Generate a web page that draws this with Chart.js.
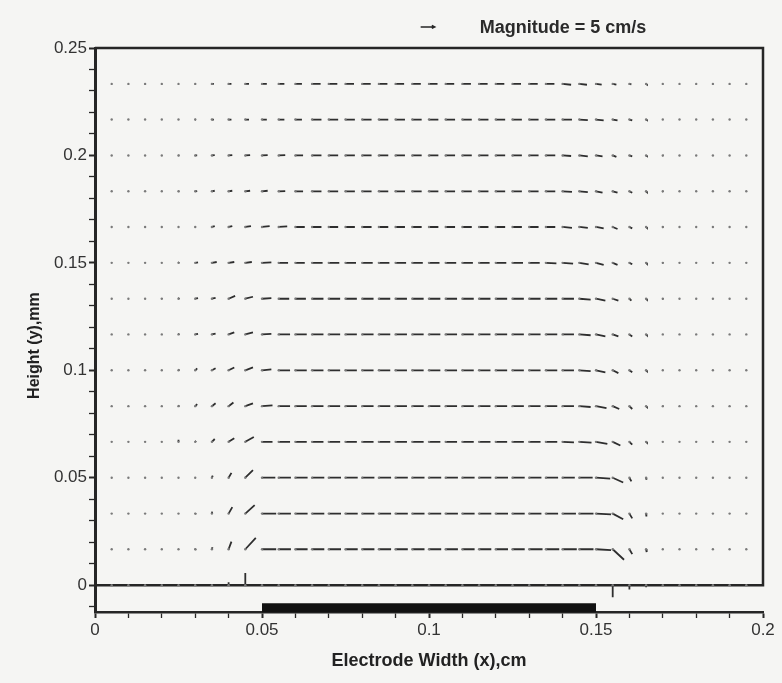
<!DOCTYPE html>
<html>
<head>
<meta charset="utf-8">
<title>Velocity vectors over the electrode</title>
<script src="https://cdn.jsdelivr.net/npm/chart.js@4.4.1/dist/chart.umd.min.js"></script>
<style>
  html, body { margin: 0; padding: 0; background: #f5f5f3; }
  #wrap { width: 782px; height: 683px; }
</style>
</head>
<body>
<div id="wrap"><canvas id="quiverChart" width="782" height="683"></canvas></div>
<script>
(function () {
  'use strict';

  // Axis limits and ticks
  var X_MIN = 0, X_MAX = 0.2;
  var Y_MIN = -0.0125, Y_MAX = 0.25;
  var X_TICKS = [0, 0.01, 0.02, 0.03, 0.04, 0.05, 0.06, 0.07, 0.08, 0.09, 0.1,
                 0.11, 0.12, 0.13, 0.14, 0.15, 0.16, 0.17, 0.18, 0.19, 0.2];
  var X_LABELS = [0, 0.05, 0.1, 0.15, 0.2];
  var Y_TICKS = [-0.01, 0, 0.01, 0.02, 0.03, 0.04, 0.05, 0.06, 0.07, 0.08, 0.09, 0.1,
                 0.11, 0.12, 0.13, 0.14, 0.15, 0.16, 0.17, 0.18, 0.19, 0.2,
                 0.21, 0.22, 0.23, 0.24, 0.25];
  var Y_LABELS = [0, 0.05, 0.1, 0.15, 0.2, 0.25];

  // Electrode strip below the cell
  var ELECTRODE_X = [0.05, 0.15];
  var ELECTRODE_Y = -0.0105;

  // Vector grid
  var GRID_X = [0.005, 0.01, 0.015, 0.02, 0.025, 0.03, 0.035, 0.04, 0.045, 0.05,
                0.055, 0.06, 0.065, 0.07, 0.075, 0.08, 0.085, 0.09, 0.095, 0.1,
                0.105, 0.11, 0.115, 0.12, 0.125, 0.13, 0.135, 0.14, 0.145, 0.15,
                0.155, 0.16, 0.165, 0.17, 0.175, 0.18, 0.185, 0.19, 0.195];
  var GRID_Y = [0, 0.0167, 0.0333, 0.05, 0.0667, 0.0833, 0.1, 0.1167,
                0.1333, 0.15, 0.1667, 0.1833, 0.2, 0.2167, 0.2333];

  // Velocity components per row (cm/s), one value per GRID_X column
  var U00 = [0,0,0,0,0,0,0,0,0,0, 0,0,0,0,0,0,0,0,0,0, 0,0,0,0,0,0,0,0,0,0, 0,0,0,0,0,0,0,0,0];
  var V00 = [0,0,0,0,0,0,0.3,1.0,4.3,0, 0,0,0,0,0,0,0,0,0,0, 0,0,0,0,0,0,0,0,0,0, -4.3,-1.5,-0.7,0,0,0,0,0,0];

  var U01 = [0,0,0,0,0,0.1,0.2,1.0,3.7,5.0, 4.3,4.3,4.3,4.3,4.3,4.3,4.3,4.3,4.3,4.3, 4.3,4.3,4.3,4.3,4.3,4.7,4.7,5.0,5.0,5.3, 4.0,1.0,0.2,0,0,0,0,0,0];
  var V01 = [0,0,0,0,0,0.2,0.7,2.7,4.0,0, 0,0,0,0,0,0,0,0,0,0, 0,0,0,0,0,0,0,0,0,-0.3, -3.7,-1.7,-1.0,0,0,0,0,0,0];

  var U02 = [0,0,0,0,0,0.1,0.1,1.3,3.3,5.0, 4.3,4.3,4.3,4.3,4.3,4.3,4.3,4.3,4.3,4.3, 4.3,4.3,4.3,4.3,4.3,4.3,4.3,4.7,5.0,5.3, 3.7,1.0,0.1,0,0,0,0,0,0];
  var V02 = [0,0,0,0,0,0.2,0.7,2.3,3.0,0, 0,0,0,0,0,0,0,0,0,0, 0,0,0,0,0,0,0,0,0,-0.3, -2.0,-1.7,-1.0,0,0,0,0,0,0];

  var U03 = [0,0,0,0,0,0,0.3,1.0,2.7,4.7, 4.3,4.3,4.3,4.3,4.3,4.3,4.3,4.3,4.3,4.3, 4.3,4.3,4.3,4.3,4.3,4.3,4.3,4.3,4.7,5.0, 3.7,0.7,0.1,0,0,0,0,0,0];
  var V03 = [0,0,0,0,0,0,0.7,1.7,2.7,0, 0,0,0,0,0,0,0,0,0,0, 0,0,0,0,0,0,0,0,0,-0.3, -1.7,-1.3,-0.7,0,0,0,0,0,0];

  var U04 = [0,0,0,0,0,0.3,1.0,2.0,3.0,3.7, 4.0,4.0,4.0,4.0,4.0,4.0,4.0,4.0,4.0,4.0, 4.0,4.0,4.0,4.0,4.0,4.0,4.0,4.0,4.3,4.0, 2.7,1.0,0.3,0,0,0,0,0,0];
  var V04 = [0,0,0,0,0.7,0.3,1.0,1.3,1.7,0, 0,0,0,0,0,0,0,0,0,0, 0,0,0,0,0,0,0,-0.2,-0.3,-0.7, -1.3,-1.0,-0.3,0,0,0,0,0,0];

  var U05 = [0,0,0,0,0.2,0.7,1.3,1.7,2.7,3.7, 4.0,4.0,4.0,4.0,4.0,4.0,4.0,4.0,4.0,4.0, 4.0,4.0,4.0,4.0,4.0,4.0,4.0,4.0,4.0,3.7, 2.3,1.0,0.3,0.2,0,0,0,0,0];
  var V05 = [0,0,0,0,0.3,0.7,1.0,1.3,1.0,0.3, 0,0,0,0,0,0,0,0,0,0, 0,0,0,0,0,0,0,0,-0.3,-0.7, -1.0,-1.0,-0.3,-0.2,0,0,0,0,0];

  var U06 = [0,0,0,0,0.3,0.7,1.3,2.0,2.7,3.3, 4.0,4.0,4.0,4.0,4.0,4.0,4.0,4.0,4.0,4.0, 4.0,4.0,4.0,4.0,4.0,4.0,4.0,4.0,4.0,3.3, 2.0,1.0,0.3,0,0,0,0,0,0];
  var V06 = [0,0,0,0,0.3,0.7,0.7,1.0,1.0,0.3, 0,0,0,0,0,0,0,0,0,0, 0,0,0,0,0,0,0,0,-0.3,-0.7, -1.0,-0.7,-0.3,0,0,0,0,0,0];

  var U07 = [0,0,0,0,0.3,1.0,1.3,2.0,2.7,3.3, 4.0,4.0,4.0,4.0,4.0,4.0,4.0,4.0,4.0,4.0, 4.0,4.0,4.0,4.0,4.0,4.0,4.0,4.0,4.0,3.3, 2.0,1.0,0.3,0,0,0,0,0,0];
  var V07 = [0,0,0,0,0.3,0.2,0.3,0.7,0.7,0.2, 0,0,0,0,0,0,0,0,0,0, 0,0,0,0,0,0,0,0,-0.3,-0.7, -0.7,-0.7,-0.3,0,0,0,0,0,0];

  var U08 = [0,0,0,0,0.3,1.0,1.3,2.3,2.7,3.3, 3.7,3.7,4.0,4.0,4.0,4.0,4.0,4.0,4.0,4.0, 4.0,4.0,4.0,4.0,4.0,4.0,4.0,4.0,4.0,3.3, 2.0,0.7,0.3,0.2,0,0,0,0,0];
  var V08 = [0,0,0,0.3,0.3,0.2,0.3,1.0,0.7,0.2, 0,0,0,0,0,0,0,0,0,0, 0,0,0,0,0,0,0,0,-0.3,-0.7, -0.7,-0.7,-0.3,-0.2,0,0,0,0,0];

  var U09 = [0,0,0,0,0.3,1.0,1.7,2.0,2.3,3.3, 3.3,3.3,3.7,3.7,3.7,3.7,3.7,3.7,3.7,3.7, 3.7,3.7,3.7,3.7,3.7,3.7,3.7,3.7,3.3,2.7, 1.7,1.0,0.3,0.2,0,0,0,0,0];
  var V09 = [0,0,0,0,0.2,0.2,0.3,0.3,0.3,0.2, 0,0,0,0,0,0,0,0,0,0, 0,0,0,0,0,0,-0.2,-0.3,-0.5,-0.7, -0.7,-0.5,-0.3,-0.2,0,0,0,0,0];

  var U10 = [0,0,0,0,0.2,0.3,1.0,1.3,2.0,2.7, 3.0,3.3,3.3,3.3,3.3,3.3,3.3,3.3,3.3,3.3, 3.3,3.3,3.3,3.3,3.3,3.3,3.3,3.3,3.0,2.7, 1.7,1.0,0.3,0.2,0,0,0,0,0];
  var V10 = [0,0,0,0,0,0,0.3,0.3,0.3,0.3, 0.2,0,0,0,0,0,0,0,0,0, 0,0,0,0,0,0,0,-0.3,-0.3,-0.5, -0.7,-0.5,-0.3,-0.2,0,0,0,0,0];

  var U11 = [0,0,0,0,0.3,0.7,1.0,1.3,1.7,2.0, 2.3,2.7,3.3,3.3,3.3,3.3,3.3,3.3,3.3,3.3, 3.3,3.3,3.3,3.3,3.3,3.3,3.3,3.3,3.0,2.3, 1.7,1.0,0.3,0.2,0,0,0,0,0];
  var V11 = [0,0,0,0,0,0.1,0.2,0.2,0.2,0.2, 0.1,0,0,0,0,0,0,0,0,0, 0,0,0,0,0,0,0,-0.2,-0.3,-0.5, -0.5,-0.5,-0.3,-0.2,0,0,0,0,0];

  var U12 = [0,0,0,0,0.3,0.7,1.0,1.3,1.7,2.0, 2.3,2.7,3.3,3.3,3.3,3.3,3.3,3.3,3.3,3.3, 3.3,3.3,3.3,3.3,3.3,3.3,3.3,3.0,3.0,2.3, 1.3,1.0,0.3,0.2,0,0,0,0,0];
  var V12 = [0,0,0,0,0,0,0.1,0.1,0.1,0.1, 0.1,0,0,0,0,0,0,0,0,0, 0,0,0,0,0,0,0,-0.2,-0.3,-0.3, -0.5,-0.3,-0.2,-0.1,0,0,0,0,0];

  var U13 = [0,0,0,0,0,0.3,0.7,1.0,1.3,1.7, 2.0,2.3,3.3,3.3,3.3,3.3,3.3,3.3,3.3,3.3, 3.3,3.3,3.3,3.3,3.3,3.3,3.3,3.3,3.0,2.7, 1.7,1.0,0.3,0,0,0,0,0,0];
  var V13 = [0,0,0,0,0,0,0,0,0,0, 0,0,0,0,0,0,0,0,0,0, 0,0,0,0,0,0,0,0,-0.2,-0.3, -0.3,-0.3,-0.2,0,0,0,0,0,0];

  var U14 = [0,0,0,0,0,0.3,0.7,1.0,1.3,1.7, 2.0,2.3,3.0,3.0,3.0,3.0,3.0,3.0,3.0,3.0, 3.0,3.0,3.0,3.0,3.0,3.0,3.0,3.0,2.7,2.0, 1.3,0.7,0.3,0,0,0,0,0,0];
  var V14 = [0,0,0,0,0,0,0,0,0,0, 0,0,0,0,0,0,0,0,0,0, 0,0,0,0,0,0,0,-0.3,-0.3,-0.3, -0.3,-0.2,-0.2,0,0,0,0,0,0];

  var U_ROWS = [U00, U01, U02, U03, U04, U05, U06, U07, U08, U09, U10, U11, U12, U13, U14];
  var V_ROWS = [V00, V01, V02, V03, V04, V05, V06, V07, V08, V09, V10, V11, V12, V13, V14];

  // Arrow length in axis units per 1 cm/s
  var SCALE_X = 0.00085;
  var SCALE_Y = 0.00132;

  // Reference arrow (key)
  var KEY_MAGNITUDE = 5;
  var KEY_LABEL = 'Magnitude = 5 cm/s';
  var KEY_X = 0.0975;
  var KEY_Y = 0.2598;

  var INK = '#262626';
  var FONT = '"Liberation Sans", Arial, Helvetica, sans-serif';

  Chart.defaults.font.family = FONT;
  Chart.defaults.color = '#333';

  // One line dataset per row: tail, tip, gap
  function rowPoints(r) {
    var pts = [];
    GRID_X.forEach(function (x, i) {
      var y = GRID_Y[r];
      pts.push({ x: x, y: y });
      pts.push({ x: x + U_ROWS[r][i] * SCALE_X, y: y + V_ROWS[r][i] * SCALE_Y });
      pts.push({ x: x, y: null });
    });
    return pts;
  }

  var datasets = GRID_Y.map(function (y, r) {
    return {
      label: 'y = ' + y,
      data: rowPoints(r),
      showLine: true,
      spanGaps: false,
      borderColor: '#2e2e2e',
      borderWidth: 1.8,
      pointRadius: function (ctx) { return ctx.dataIndex % 3 === 0 ? 1.2 : 0; },
      pointBackgroundColor: '#7a7a7a',
      pointBorderWidth: 0
    };
  });

  // Cell outline: y = 0 floor, right wall, lid
  datasets.push({
    label: 'frame',
    data: [{ x: X_MIN, y: 0 }, { x: X_MAX, y: 0 }, { x: X_MAX, y: Y_MAX }, { x: X_MIN, y: Y_MAX }],
    showLine: true,
    borderColor: INK,
    borderWidth: 2.5,
    pointRadius: 0,
    clip: false
  });

  // Electrode
  datasets.push({
    label: 'electrode',
    data: [{ x: ELECTRODE_X[0], y: ELECTRODE_Y }, { x: ELECTRODE_X[1], y: ELECTRODE_Y }],
    showLine: true,
    borderColor: '#111',
    borderWidth: 9,
    borderCapStyle: 'butt',
    pointRadius: 0,
    clip: false
  });

  var magnitudeKey = {
    id: 'magnitudeKey',
    afterDraw: function (chart) {
      var xs = chart.scales.x, ys = chart.scales.y, ctx = chart.ctx;
      var x0 = xs.getPixelForValue(KEY_X);
      var x1 = xs.getPixelForValue(KEY_X + KEY_MAGNITUDE * SCALE_X);
      var y = ys.getPixelForValue(KEY_Y);
      ctx.save();
      ctx.strokeStyle = INK;
      ctx.lineWidth = 1.4;
      ctx.beginPath();
      ctx.moveTo(x0, y);
      ctx.lineTo(x1, y);
      ctx.moveTo(x1 - 3, y - 1.5);
      ctx.lineTo(x1, y);
      ctx.lineTo(x1 - 3, y + 1.5);
      ctx.stroke();
      ctx.fillStyle = '#2a2a2a';
      ctx.font = 'bold 18px ' + FONT;
      ctx.textBaseline = 'middle';
      ctx.fillText(KEY_LABEL, x0 + 59, y + 1);
      ctx.restore();
    }
  };

  function isLabel(list, v) { return list.indexOf(v) >= 0; }

  new Chart(document.getElementById('quiverChart').getContext('2d'), {
    type: 'scatter',
    data: { datasets: datasets },
    options: {
      responsive: false,
      animation: false,
      layout: { padding: { left: 10, right: 19, top: 48, bottom: 0 } },
      scales: {
        x: {
          type: 'linear',
          min: X_MIN,
          max: X_MAX,
          afterBuildTicks: function (axis) {
            axis.ticks = X_TICKS.map(function (v) { return { value: v }; });
          },
          afterFit: function (axis) { axis.height = 71; },
          grid: {
            drawOnChartArea: false,
            tickLength: 6,
            tickColor: INK,
            tickWidth: function (ctx) { return isLabel(X_LABELS, ctx.tick.value) ? 2 : 1.3; }
          },
          border: { color: INK, width: 2.5 },
          ticks: {
            autoSkip: false,
            maxRotation: 0,
            padding: 2,
            color: '#333',
            font: { size: 17 },
            callback: function (v) { return isLabel(X_LABELS, v) ? String(v) : ''; }
          },
          title: {
            display: true,
            text: 'Electrode Width (x),cm',
            color: '#222',
            font: { size: 18, weight: 'bold' },
            padding: { top: 11, bottom: 11 }
          }
        },
        y: {
          type: 'linear',
          min: Y_MIN,
          max: Y_MAX,
          afterBuildTicks: function (axis) {
            axis.ticks = Y_TICKS.map(function (v) { return { value: v }; });
          },
          afterFit: function (axis) { axis.width = 85; },
          grid: {
            drawOnChartArea: false,
            tickLength: 6,
            tickColor: INK,
            tickWidth: function (ctx) { return isLabel(Y_LABELS, ctx.tick.value) ? 2 : 1.3; }
          },
          border: { color: INK, width: 3 },
          ticks: {
            autoSkip: false,
            padding: 2,
            color: '#333',
            font: { size: 17 },
            callback: function (v) { return isLabel(Y_LABELS, v) ? String(v) : ''; }
          },
          title: {
            display: true,
            text: 'Height (y),mm       ',
            color: '#222',
            font: { size: 16, weight: 'bold' },
            padding: { top: 15, bottom: 15 }
          }
        }
      },
      plugins: {
        legend: { display: false },
        tooltip: { enabled: false }
      }
    },
    plugins: [magnitudeKey]
  });
})();
</script>
</body>
</html>
